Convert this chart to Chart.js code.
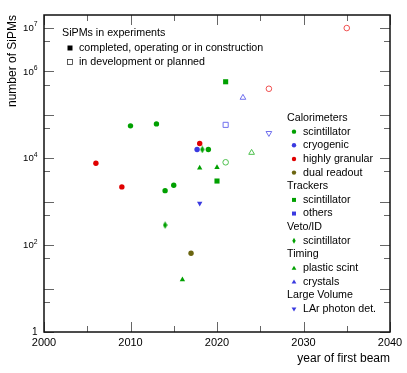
<!DOCTYPE html>
<html>
<head>
<meta charset="utf-8">
<script src="https://cdn.jsdelivr.net/npm/chart.js@4/dist/chart.umd.min.js"></script>
<style>
  html, body { margin: 0; padding: 0; background: #fff; }
</style>
</head>
<body>
<canvas id="myChart" width="407" height="373"></canvas>
<script>
// data (year of first beam, number of SiPMs)
var calScintYears = [2010, 2013, 2014, 2015, 2019];
var calScintCounts = [56000, 62000, 1800, 2400, 16000];
var calScintPlanYears = [2021];
var calScintPlanCounts = [8100];
var calCryoYears = [2017.7];
var calCryoCounts = [16000];
var calGranYears = [2006, 2009, 2018];
var calGranCounts = [7700, 2200, 22000];
var calGranPlanYears = [2026, 2035];
var calGranPlanCounts = [400000, 10000000];
var calDualYears = [2017];
var calDualCounts = [65];
var trkScintYears = [2020, 2021];
var trkScintCounts = [3000, 580000];
var trkOtherPlanYears = [2021];
var trkOtherPlanCounts = [59000];
var vetoScintYears = [2014, 2018.3];
var vetoScintCounts = [290, 16000];
var timScintYears = [2016, 2018, 2020];
var timScintCounts = [16, 6000, 6200];
var timScintPlanYears = [2024];
var timScintPlanCounts = [13500];
var timCrysPlanYears = [2023];
var timCrysPlanCounts = [250000];
var larYears = [2018];
var larCounts = [920];
var larPlanYears = [2026];
var larPlanCounts = [38000];

// axis ticks
var xTickValues = [2000, 2010, 2020, 2030, 2040];
var xMinorTicks = [2005, 2015, 2025, 2035];
var yTickValues = [1, 100, 10000, 1000000, 10000000];
var yTickExp = [null, 2, 4, 6, 7];
var yMajorTicks = [1, 10, 100, 1000, 10000, 100000, 1000000, 10000000];
var yMinorTicks = [5, 50, 500, 5000, 50000, 500000, 5000000];

// legend text
var statusTitle = 'SiPMs in experiments';
var statusLabels = ['completed, operating or in construction', 'in development or planned'];
var legendRows = [
    ['Calorimeters', null],
    ['scintillator', 'calScint'],
    ['cryogenic', 'calCryo'],
    ['highly granular', 'calGran'],
    ['dual readout', 'calDual'],
    ['Trackers', null],
    ['scintillator', 'trkScint'],
    ['others', 'trkOther'],
    ['Veto/ID', null],
    ['scintillator', 'veto'],
    ['Timing', null],
    ['plastic scint', 'timScint'],
    ['crystals', 'timCrys'],
    ['Large Volume', null],
    ['LAr photon det.', 'lar']
];

var GREEN = '#00a000', RED = '#e00000', BLUE = '#3a3ae0', OLIVE = '#6b6510';
var LGREEN = '#4cc04c', LRED = '#f05050', LBLUE = '#7070ee';
var FONT = '"Liberation Sans", Arial, sans-serif';

// narrow diamond like the reference
function makeDiamond(color) {
    var c = document.createElement('canvas');
    c.width = 5; c.height = 8;
    var g = c.getContext('2d');
    g.fillStyle = color;
    g.beginPath();
    g.moveTo(2.5, 0.3); g.lineTo(4.7, 4); g.lineTo(2.5, 7.7); g.lineTo(0.3, 4);
    g.closePath();
    g.fill();
    return c;
}

function pts(xs, ys) {
    return xs.map(function (x, i) { return { x: x, y: ys[i] }; });
}

function filled(label, xs, ys, color, style, r, rot) {
    return {
        label: label, data: pts(xs, ys), pointStyle: style,
        pointRadius: r, pointHoverRadius: r, pointRotation: rot || 0,
        backgroundColor: color, borderColor: color, borderWidth: 0
    };
}
function open(label, xs, ys, color, style, r, rot) {
    return {
        label: label, data: pts(xs, ys), pointStyle: style,
        pointRadius: r, pointHoverRadius: r, pointRotation: rot || 0,
        backgroundColor: '#ffffff', borderColor: color, borderWidth: 1
    };
}

var datasets = [
    filled('cal scint', calScintYears, calScintCounts, GREEN, 'circle', 2.7),
    open('cal scint planned', calScintPlanYears, calScintPlanCounts, LGREEN, 'circle', 2.8),
    filled('cal cryo', calCryoYears, calCryoCounts, BLUE, 'circle', 2.7),
    filled('cal granular', calGranYears, calGranCounts, RED, 'circle', 2.7),
    open('cal granular planned', calGranPlanYears, calGranPlanCounts, LRED, 'circle', 2.8),
    filled('cal dual', calDualYears, calDualCounts, OLIVE, 'circle', 2.7),
    filled('trk scint', trkScintYears, trkScintCounts, GREEN, 'rect', 3.6),
    open('trk others planned', trkOtherPlanYears, trkOtherPlanCounts, LBLUE, 'rect', 3.6),
    filled('veto scint', vetoScintYears, vetoScintCounts, GREEN, makeDiamond(GREEN), 4),
    filled('timing scint', timScintYears, timScintCounts, GREEN, 'triangle', 3.1),
    open('timing scint planned', timScintPlanYears, timScintPlanCounts, LGREEN, 'triangle', 3.3),
    open('timing crystals planned', timCrysPlanYears, timCrysPlanCounts, LBLUE, 'triangle', 3.3),
    filled('LAr', larYears, larCounts, BLUE, 'triangle', 3.1, 180),
    open('LAr planned', larPlanYears, larPlanCounts, LBLUE, 'triangle', 3.3, 180)
];

var legendMarks = {
    calScint: ['circle', GREEN], calCryo: ['circle', BLUE], calGran: ['circle', RED],
    calDual: ['circle', OLIVE], trkScint: ['square', GREEN], trkOther: ['square', BLUE],
    veto: ['diamond', GREEN], timScint: ['up', GREEN], timCrys: ['up', BLUE], lar: ['down', BLUE]
};

function drawMark(ctx, kind, x, y, color, hollow) {
    ctx.beginPath();
    if (kind === 'circle') {
        ctx.arc(x, y, 2.2, 0, Math.PI * 2);
    } else if (kind === 'square') {
        ctx.rect(x - 2, y - 2, 4, 4);
    } else if (kind === 'diamond') {
        ctx.moveTo(x, y - 3); ctx.lineTo(x + 1.7, y); ctx.lineTo(x, y + 3); ctx.lineTo(x - 1.7, y);
        ctx.closePath();
    } else if (kind === 'up') {
        ctx.moveTo(x, y - 2.4); ctx.lineTo(x + 2.4, y + 1.7); ctx.lineTo(x - 2.4, y + 1.7);
        ctx.closePath();
    } else if (kind === 'down') {
        ctx.moveTo(x, y + 2.4); ctx.lineTo(x + 2.4, y - 1.7); ctx.lineTo(x - 2.4, y - 1.7);
        ctx.closePath();
    }
    if (hollow) {
        ctx.strokeStyle = color; ctx.lineWidth = 1; ctx.stroke();
    } else {
        ctx.fillStyle = color; ctx.fill();
    }
}

var framePlugin = {
    id: 'frame',
    afterDraw: function (chart) {
        var ctx = chart.ctx;
        var a = chart.chartArea;
        var xs = chart.scales.x, ys = chart.scales.y;
        ctx.save();

        // inward ticks, mirrored
        ctx.strokeStyle = '#666';
        ctx.lineWidth = 1;
        function xTick(v, len) {
            var px = Math.round(xs.getPixelForValue(v)) + 0.5;
            ctx.beginPath();
            ctx.moveTo(px, a.bottom); ctx.lineTo(px, a.bottom - len);
            ctx.moveTo(px, a.top); ctx.lineTo(px, a.top + len);
            ctx.stroke();
        }
        function yTick(v, len) {
            var py = Math.round(ys.getPixelForValue(v)) + 0.5;
            ctx.beginPath();
            ctx.moveTo(a.left, py); ctx.lineTo(a.left + len, py);
            ctx.moveTo(a.right, py); ctx.lineTo(a.right - len, py);
            ctx.stroke();
        }
        xTickValues.forEach(function (v) { xTick(v, 10); });
        xMinorTicks.forEach(function (v) { xTick(v, 6); });
        yMajorTicks.forEach(function (v) { yTick(v, 10); });
        yMinorTicks.forEach(function (v) { yTick(v, 6); });

        // frame
        ctx.strokeStyle = '#111';
        ctx.lineWidth = 1.5;
        ctx.strokeRect(a.left, a.top, a.right - a.left, a.bottom - a.top);

        // tick labels
        ctx.fillStyle = '#000';
        ctx.font = '11px ' + FONT;
        ctx.textAlign = 'center';
        ctx.textBaseline = 'middle';
        xTickValues.forEach(function (v) {
            ctx.fillText(String(v), xs.getPixelForValue(v), a.bottom + 11);
        });
        yTickValues.forEach(function (v, i) {
            var py = ys.getPixelForValue(v);
            var right = a.left - 6.5;
            if (yTickExp[i] === null) {
                ctx.font = '10px ' + FONT;
                ctx.textAlign = 'right';
                ctx.fillText('1', right, py);
            } else {
                ctx.font = '6.8px ' + FONT;
                ctx.textAlign = 'right';
                var e = String(yTickExp[i]);
                ctx.fillText(e, right, py - 3.5);
                var w = ctx.measureText(e).width;
                ctx.font = '9.6px ' + FONT;
                ctx.fillText('10', right - w, py + 0.5);
            }
        });

        // axis titles
        ctx.font = '12px ' + FONT;
        ctx.textAlign = 'right';
        ctx.fillText('year of first beam', a.right, 359);
        ctx.save();
        ctx.translate(12.5, 15);
        ctx.rotate(-Math.PI / 2);
        ctx.textAlign = 'right';
        ctx.fillText('number of SiPMs', 0, 0);
        ctx.restore();

        // status legend (top left)
        ctx.font = '10.7px ' + FONT;
        ctx.textAlign = 'left';
        ctx.fillText(statusTitle, 62, 33);
        ctx.fillText(statusLabels[0], 79, 48);
        ctx.fillText(statusLabels[1], 79, 62);
        ctx.fillStyle = '#000';
        ctx.fillRect(67.5, 45.5, 5, 5);
        ctx.strokeStyle = '#333';
        ctx.lineWidth = 0.8;
        ctx.strokeRect(67.5, 59.5, 5, 5);

        // category legend (right)
        legendRows.forEach(function (row, i) {
            var y = 118 + i * 13.65;
            ctx.fillStyle = '#000';
            if (row[1] === null) {
                ctx.fillText(row[0], 287, y);
            } else {
                ctx.fillText(row[0], 303, y);
                var m = legendMarks[row[1]];
                drawMark(ctx, m[0], 294, y, m[1], false);
            }
        });
        ctx.restore();
    }
};

new Chart(document.getElementById('myChart'), {
    type: 'scatter',
    data: { datasets: datasets },
    plugins: [framePlugin],
    options: {
        responsive: false,
        animation: false,
        devicePixelRatio: 1,
        layout: { padding: { top: 15, right: 17, left: 0, bottom: 0 } },
        plugins: { legend: { display: false }, tooltip: { enabled: false }, title: { display: false } },
        scales: {
            x: {
                type: 'linear', min: 2000, max: 2040,
                grid: { display: false }, border: { display: false },
                ticks: { display: false },
                afterFit: function (s) { s.height = 41; }
            },
            y: {
                type: 'logarithmic', min: 1, max: 20000000,
                grid: { display: false }, border: { display: false },
                ticks: { display: false },
                afterFit: function (s) { s.width = 44; }
            }
        }
    }
});
</script>
</body>
</html>
